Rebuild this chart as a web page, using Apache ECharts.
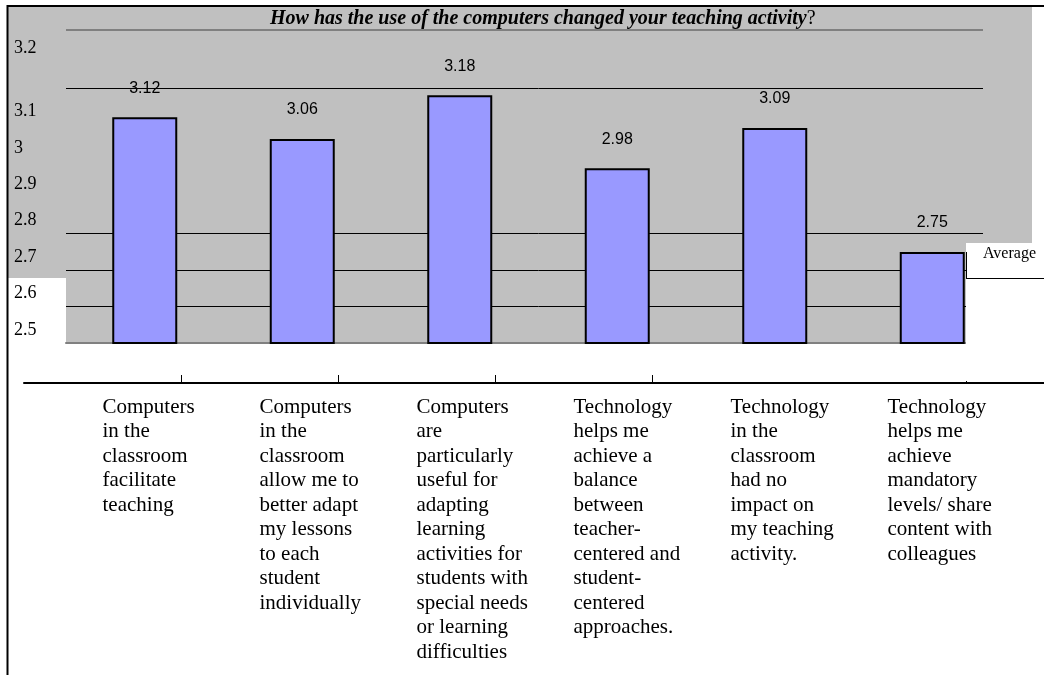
<!DOCTYPE html>
<html>
<head>
<meta charset="utf-8">
<title>How has the use of the computers changed your teaching activity?</title>
<script src="https://cdn.jsdelivr.net/npm/echarts@6/dist/echarts.min.js"></script>
<style>
  html, body { margin: 0; padding: 0; background: #fff; }
  #chart { width: 1044px; height: 675px; }
</style>
</head>
<body>
<div id="chart"></div>
<script>
// category labels, broken into lines the way the picture wraps them
var categories = [
  'Computers\nin the\nclassroom\nfacilitate\nteaching',
  'Computers\nin the\nclassroom\nallow me to\nbetter adapt\nmy lessons\nto each\nstudent\nindividually',
  'Computers\nare\nparticularly\nuseful for\nadapting\nlearning\nactivities for\nstudents with\nspecial needs\nor learning\ndifficulties',
  'Technology\nhelps me\nachieve a\nbalance\nbetween\nteacher-\ncentered and\nstudent-\ncentered\napproaches.',
  'Technology\nin the\nclassroom\nhad no\nimpact on\nmy teaching\nactivity.',
  'Technology\nhelps me\nachieve\nmandatory\nlevels/ share\ncontent with\ncolleagues'
]
var averages = [3.12, 3.06, 3.18, 2.98, 3.09, 2.75]

// value axis and the grid lines that are actually drawn in the picture
var yMin = 2.5
var yMax = 3.2
var yStep = 0.1
var drawnGridLines = [2.6, 2.7, 2.8, 3.2]

var serif = '"Liberation Serif", "Times New Roman", serif'
var sans = '"Liberation Sans", Arial, sans-serif'
var panelGray = '#c0c0c0'

// one colour per split line (they are used in turn), transparent where there is none
var gridLineColors = []
for (var v = yMin; v <= yMax + 1e-9; v += yStep) {
  var drawn = drawnGridLines.some(function (g) { return Math.abs(g - v) < 1e-6 })
  gridLineColors.push(drawn ? '#000' : 'rgba(0,0,0,0)')
}

function chartOption () {
  return {
    animation: false,
    title: {
      text: '{t|How has the use of the computers changed your teaching activity}{q|?}',
      left: 270,
      top: 9,
      padding: 0,
      textStyle: {
        rich: {
          t: { fontFamily: serif, fontWeight: 'bold', fontStyle: 'italic', fontSize: 20, color: '#000' },
          q: { fontFamily: serif, fontWeight: 'normal', fontSize: 20, color: '#000' }
        }
      }
    },
    legend: {
      data: ['Average'],
      left: 977,
      top: 246,
      padding: 0,
      itemWidth: 0,
      itemHeight: 0,
      selectedMode: false,
      textStyle: { fontFamily: serif, fontSize: 16, color: '#000' }
    },
    grid: [
      { left: 66, right: 33, top: 88, bottom: 332 },   // bars
      { left: 24, right: 78, top: 300, bottom: 292 }   // long black axis with the statements
    ],
    xAxis: [
      {
        gridIndex: 0,
        type: 'category',
        data: categories,
        axisLine: { lineStyle: { color: '#808080', width: 2 } },
        axisTick: { show: false },
        axisLabel: { show: false },
        splitLine: { show: false }
      },
      {
        gridIndex: 1,
        type: 'category',
        data: categories,
        position: 'bottom',
        axisLine: { lineStyle: { color: '#000', width: 2 } },
        axisTick: {
          show: true,
          inside: true,
          length: 8,
          interval: function (index) { return index >= 1 && index <= 4 },
          lineStyle: { color: '#000', width: 1 }
        },
        axisLabel: {
          interval: 0,
          align: 'left',
          margin: 12,
          fontFamily: serif,
          fontSize: 21,
          lineHeight: 24.5,
          color: '#000'
        }
      }
    ],
    yAxis: [
      {
        gridIndex: 0,
        type: 'value',
        min: yMin,
        max: yMax,
        interval: yStep,
        axisLine: { show: false },
        axisTick: { show: false },
        axisLabel: {
          align: 'left',
          margin: 52,
          verticalAlign: 'bottom',
          padding: [0, 0, 4, 0],
          fontFamily: serif,
          fontSize: 18,
          color: '#000',
          // the top label sits well above its line in the picture
          formatter: function (value) {
            return Math.abs(value - yMax) < 1e-6 ? '{hi|' + value + '}' : String(value)
          },
          rich: {
            hi: { fontFamily: serif, fontSize: 18, color: '#000', padding: [0, 0, 27, 0] }
          }
        },
        splitLine: { show: true, lineStyle: { color: gridLineColors, width: 1 } }
      },
      { gridIndex: 1, type: 'value', show: false }
    ],
    series: [{
      name: 'Average',
      type: 'bar',
      xAxisIndex: 0,
      yAxisIndex: 0,
      data: averages,
      barWidth: 65,
      itemStyle: { color: '#9999ff', borderColor: '#000', borderWidth: 2 },
      label: {
        show: true,
        position: 'top',
        distance: 21,
        fontFamily: sans,
        fontSize: 16,
        color: '#000'
      }
    }],
    graphic: [
      // gray panel behind the plot
      { type: 'rect', z: -10, shape: { x: 8, y: 6, width: 1024, height: 237 }, style: { fill: panelGray } },
      { type: 'rect', z: -10, shape: { x: 8, y: 6, width: 58, height: 272 }, style: { fill: panelGray } },
      { type: 'rect', z: -10, shape: { x: 66, y: 6, width: 900, height: 337 }, style: { fill: panelGray } },
      // the lines stop short of the right edge
      { type: 'rect', z: 1, shape: { x: 983, y: 8, width: 49, height: 235 }, style: { fill: panelGray } },
      { type: 'rect', z: 1, shape: { x: 966, y: 243, width: 78, height: 125 }, style: { fill: '#fff' } },
      // no tick at the right end of the black axis
      { type: 'rect', z: 1, shape: { x: 961, y: 360, width: 12, height: 21 }, style: { fill: '#fff' } },
      // legend box edges
      { type: 'line', z: 5, shape: { x1: 966.5, y1: 252, x2: 966.5, y2: 278 }, style: { stroke: '#000', lineWidth: 1 } },
      { type: 'line', z: 5, shape: { x1: 966, y1: 278.5, x2: 1044, y2: 278.5 }, style: { stroke: '#000', lineWidth: 1 } },
      // title rule
      { type: 'line', z: 5, shape: { x1: 66, y1: 30, x2: 983, y2: 30 }, style: { stroke: '#808080', lineWidth: 2 } },
      // frame
      { type: 'line', z: 5, shape: { x1: 7, y1: 6, x2: 1044, y2: 6 }, style: { stroke: '#000', lineWidth: 2 } },
      { type: 'line', z: 5, shape: { x1: 7.5, y1: 5, x2: 7.5, y2: 675 }, style: { stroke: '#000', lineWidth: 2 } },
      // black axis runs on to the right edge
      { type: 'line', z: 5, shape: { x1: 965, y1: 383, x2: 1044, y2: 383 }, style: { stroke: '#000', lineWidth: 2 } }
    ]
  }
}

var chart = echarts.init(document.getElementById('chart'))
chart.setOption(chartOption())
</script>
</body>
</html>
